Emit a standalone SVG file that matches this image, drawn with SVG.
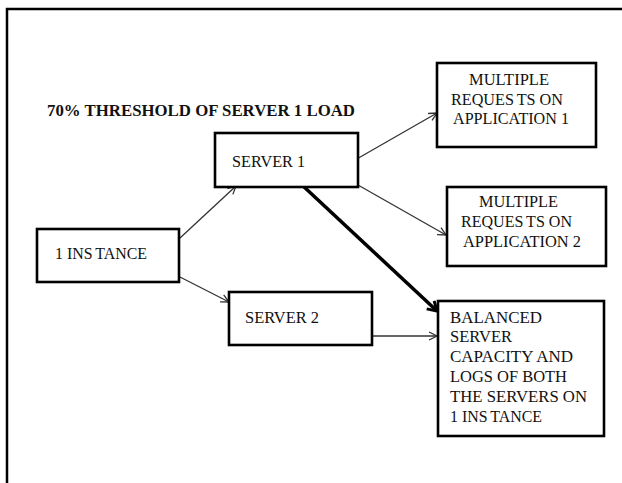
<svg xmlns="http://www.w3.org/2000/svg" width="622" height="483" viewBox="0 0 622 483">
  <defs>
    <style>
      .frame { fill: none; stroke: #000; stroke-width: 2.5; }
      .box { fill: #fff; stroke: #000; stroke-width: 2.6; }
      .lbl { font-family: "Liberation Serif", "Times New Roman", serif; font-size: 17.5px; fill: #111; }
      .title { font-family: "Liberation Serif", "Times New Roman", serif; font-size: 17.5px; font-weight: bold; fill: #111; }
      .thin { fill: none; stroke: #333; stroke-width: 1.3; marker-end: url(#arrowThin); }
      .thick { fill: none; stroke: #000; stroke-width: 3.5; marker-end: url(#arrowThick); }
    </style>
    <marker id="arrowThin" markerUnits="userSpaceOnUse" markerWidth="12" markerHeight="12" refX="9" refY="5" orient="auto">
      <path d="M1,1 L9,5 L1,9" fill="none" stroke="#333" stroke-width="1.3"/>
    </marker>
    <marker id="arrowThick" markerUnits="userSpaceOnUse" markerWidth="16" markerHeight="16" refX="11" refY="7" orient="auto">
      <path d="M2,1.5 L11,7 L2,12.5" fill="none" stroke="#000" stroke-width="3"/>
    </marker>
  </defs>

  <path class="frame" d="M7,483 V9 H624"/>

  <text class="title" x="47" y="116" textLength="308" lengthAdjust="spacingAndGlyphs">70% THRESHOLD OF SERVER 1 LOAD</text>

  <g id="connectors">
    <line class="thin" x1="180" y1="238" x2="236" y2="186"/>
    <line class="thin" x1="180" y1="277" x2="229" y2="302"/>
    <line class="thin" x1="355" y1="160" x2="437" y2="113"/>
    <line class="thin" x1="358" y1="185" x2="446" y2="235"/>
    <line class="thin" x1="372" y1="336" x2="437" y2="336"/>
    <line class="thick" x1="302" y1="185" x2="437" y2="311"/>
  </g>

  <g id="instance">
    <rect class="box" x="37" y="229" width="142" height="53"/>
    <text class="lbl" x="55" y="259" textLength="92" lengthAdjust="spacingAndGlyphs">1 INS<tspan dx="3">TANCE</tspan></text>
  </g>

  <g id="server1">
    <rect class="box" x="215" y="133" width="143" height="54"/>
    <text class="lbl" x="232" y="167" textLength="73" lengthAdjust="spacingAndGlyphs">SERVER 1</text>
  </g>

  <g id="server2">
    <rect class="box" x="229" y="292" width="143" height="53"/>
    <text class="lbl" x="245" y="323" textLength="74" lengthAdjust="spacingAndGlyphs">SERVER 2</text>
  </g>

  <g id="app1">
    <rect class="box" x="437" y="63" width="159" height="84"/>
    <text class="lbl" x="469" y="85" textLength="80" lengthAdjust="spacingAndGlyphs">MULTIPLE</text>
    <text class="lbl" x="451" y="105" textLength="112" lengthAdjust="spacingAndGlyphs">REQUES<tspan dx="3">TS ON</tspan></text>
    <text class="lbl" x="453" y="124" textLength="116" lengthAdjust="spacingAndGlyphs">APPLICATION 1</text>
  </g>

  <g id="app2">
    <rect class="box" x="447" y="187" width="159" height="79"/>
    <text class="lbl" x="479" y="207" textLength="79" lengthAdjust="spacingAndGlyphs">MULTIPLE</text>
    <text class="lbl" x="461" y="227" textLength="111" lengthAdjust="spacingAndGlyphs">REQUES<tspan dx="3">TS ON</tspan></text>
    <text class="lbl" x="463" y="247" textLength="118" lengthAdjust="spacingAndGlyphs">APPLICATION 2</text>
  </g>

  <g id="balanced">
    <rect class="box" x="438" y="301" width="166" height="135"/>
    <text class="lbl" x="450" y="322.5" textLength="92" lengthAdjust="spacingAndGlyphs">BALANCED</text>
    <text class="lbl" x="450" y="342.3" textLength="62" lengthAdjust="spacingAndGlyphs">SERVER</text>
    <text class="lbl" x="450" y="362.1" textLength="123" lengthAdjust="spacingAndGlyphs">CAPACITY AND</text>
    <text class="lbl" x="450" y="381.9" textLength="117" lengthAdjust="spacingAndGlyphs">LOGS OF BOTH</text>
    <text class="lbl" x="450" y="401.7" textLength="137" lengthAdjust="spacingAndGlyphs">THE SERVERS ON</text>
    <text class="lbl" x="450" y="421.5" textLength="92" lengthAdjust="spacingAndGlyphs">1 INS<tspan dx="3">TANCE</tspan></text>
  </g>
</svg>
